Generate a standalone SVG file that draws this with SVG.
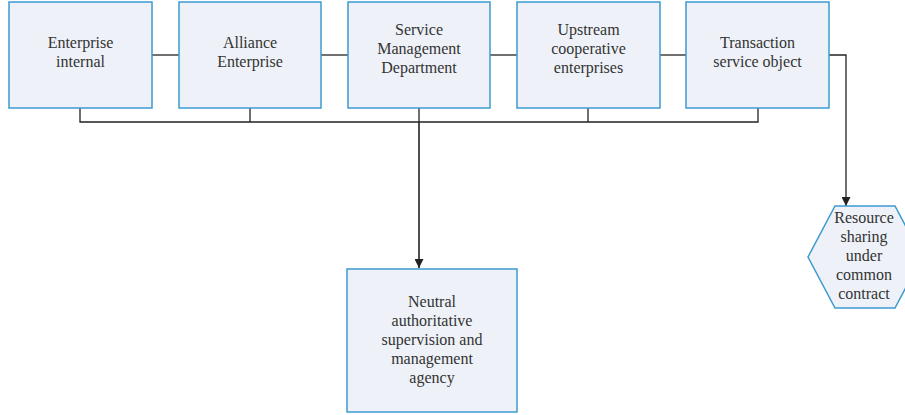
<svg xmlns="http://www.w3.org/2000/svg" width="905" height="415" viewBox="0 0 905 415">
  <style>
    .box { fill: #eef2f8; stroke: #3d9ad1; stroke-width: 1.5; }
    .wire { fill: none; stroke: #222; stroke-width: 1.3; }
    .lbl { font-family: "Liberation Serif", "DejaVu Serif", serif; font-size: 16px; fill: #333; text-anchor: middle; }
  </style>
  <defs>
    <marker id="arrow" viewBox="0 0 10 10" refX="10" refY="5" markerWidth="9" markerHeight="9" markerUnits="userSpaceOnUse" orient="auto">
      <path d="M0,0 L10,5 L0,10 z" fill="#222"/>
    </marker>
  </defs>
  <rect width="905" height="415" fill="#ffffff"/>

  <g id="connectors">
    <!-- links between neighbouring top boxes -->
    <line class="wire" x1="152" y1="55" x2="179" y2="55"/>
    <line class="wire" x1="321" y1="55" x2="348" y2="55"/>
    <line class="wire" x1="490" y1="55" x2="517" y2="55"/>
    <line class="wire" x1="660" y1="55" x2="686" y2="55"/>
    <!-- shared bus under the top row -->
    <path class="wire" d="M80,108 V122 H758 V108"/>
    <line class="wire" x1="250" y1="108" x2="250" y2="122"/>
    <line class="wire" x1="419" y1="108" x2="419" y2="122"/>
    <line class="wire" x1="588" y1="108" x2="588" y2="122"/>
    <!-- down to the supervision agency -->
    <line class="wire" x1="419" y1="122" x2="419" y2="268" marker-end="url(#arrow)" style="stroke-width:1.6"/>
    <!-- transaction object to shared resources -->
    <path class="wire" d="M829,55 H846 V206" marker-end="url(#arrow)"/>
  </g>

  <g id="enterprise-internal">
    <rect class="box" x="9" y="2" width="143" height="106"/>
    <text class="lbl" x="80.5" y="48">Enterprise</text>
    <text class="lbl" x="80.5" y="67">internal</text>
  </g>

  <g id="alliance-enterprise">
    <rect class="box" x="179" y="2" width="142" height="106"/>
    <text class="lbl" x="250" y="48">Alliance</text>
    <text class="lbl" x="250" y="67">Enterprise</text>
  </g>

  <g id="service-management">
    <rect class="box" x="348" y="2" width="142" height="106"/>
    <text class="lbl" x="419" y="35">Service</text>
    <text class="lbl" x="419" y="54">Management</text>
    <text class="lbl" x="419" y="73">Department</text>
  </g>

  <g id="upstream-cooperative">
    <rect class="box" x="517" y="2" width="143" height="106"/>
    <text class="lbl" x="588.5" y="35">Upstream</text>
    <text class="lbl" x="588.5" y="54">cooperative</text>
    <text class="lbl" x="588.5" y="73">enterprises</text>
  </g>

  <g id="transaction-service">
    <rect class="box" x="686" y="2" width="143" height="106"/>
    <text class="lbl" x="757.5" y="48">Transaction</text>
    <text class="lbl" x="757.5" y="67">service object</text>
  </g>

  <g id="supervision-agency">
    <rect class="box" x="347" y="269" width="170" height="143"/>
    <text class="lbl" x="432" y="307">Neutral</text>
    <text class="lbl" x="432" y="326">authoritative</text>
    <text class="lbl" x="432" y="345">supervision and</text>
    <text class="lbl" x="432" y="364">management</text>
    <text class="lbl" x="432" y="383">agency</text>
  </g>

  <g id="resource-sharing">
    <polygon class="box" points="835,206 895,206 922,257 895,308 835,308 808,257"/>
    <text class="lbl" x="864" y="223">Resource</text>
    <text class="lbl" x="864" y="242">sharing</text>
    <text class="lbl" x="864" y="261">under</text>
    <text class="lbl" x="864" y="280">common</text>
    <text class="lbl" x="864" y="299">contract</text>
  </g>
</svg>
